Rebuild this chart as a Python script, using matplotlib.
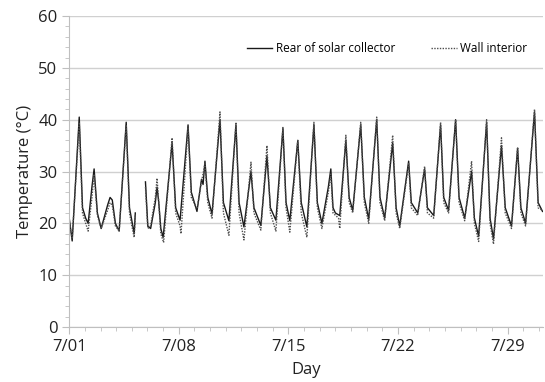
import numpy as np
import matplotlib
matplotlib.use("Agg")
import matplotlib.pyplot as plt
from matplotlib.ticker import MultipleLocator

# ---- daily readings (day of July from 7/01 00:00, temperature degC) ----
# NaN marks the logger gap on 7/05
solar_t = [0.00, 0.19, 0.64, 0.85, 1.05, 1.21, 1.45, 1.59, 1.80, 2.04, 2.45, 2.61, 2.75, 2.95,
           3.19, 3.64, 3.85, 4.00, 4.15, 4.22, 4.50, 4.87, 5.02, 5.20, 5.50, 5.61, 5.72, 5.85,
           6.00, 6.57, 6.80, 7.08, 7.59, 7.80, 8.16, 8.45, 8.55, 8.67, 8.85, 9.12, 9.63, 9.85,
           10.20, 10.65, 10.85, 11.16, 11.61, 11.80, 12.24, 12.63, 12.85, 13.20, 13.65, 13.85,
           14.09, 14.60, 14.82, 15.18, 15.63, 15.85, 16.14, 16.55, 16.71, 16.85, 17.00, 17.28,
           17.67, 17.88, 18.11, 18.62, 18.85, 19.13, 19.64, 19.85, 20.15, 20.66, 20.88, 21.11,
           21.68, 21.85, 22.26, 22.70, 22.88, 23.28, 23.72, 23.92, 24.23, 24.68, 24.90, 25.26,
           25.70, 25.88, 26.15, 26.66, 26.88, 27.10, 27.61, 27.85, 28.25, 28.64, 28.85, 29.15,
           29.72, 29.95, 30.23]
solar_v = [21.0, 16.6, 40.5, 23.0, 21.0, 20.0, 27.0, 30.5, 22.0, 19.0, 23.5, 25.0, 24.5, 20.0,
           18.5, 39.5, 23.0, 20.5, 18.0, 22.0, np.nan, 28.0, 19.5, 19.0, 24.0, 27.0, 24.0, 19.0,
           17.3, 35.5, 23.0, 20.6, 39.0, 26.0, 22.3, 28.5, 27.5, 32.0, 25.0, 21.8, 40.0, 24.0,
           20.5, 39.0, 24.0, 19.3, 30.0, 23.0, 19.6, 33.0, 23.0, 20.6, 38.3, 24.0,
           20.5, 36.0, 24.0, 19.3, 39.0, 24.0, 20.0, 27.0, 30.5, 23.0, 22.0, 21.5,
           36.0, 25.0, 22.5, 39.0, 25.0, 20.8, 40.0, 25.0, 21.0, 35.5, 23.0, 19.5,
           32.0, 24.0, 22.0, 30.5, 23.0, 21.5, 39.0, 25.0, 22.5, 40.0, 25.0, 21.0,
           30.0, 21.0, 17.5, 39.5, 21.0, 17.0, 35.0, 23.0, 19.5, 34.5, 23.0, 20.0,
           41.5, 24.0, 22.3]

wall_t = [0.00, 0.19, 0.64, 0.85, 1.05, 1.21, 1.45, 1.59, 1.80, 2.04, 2.45, 2.61, 2.75, 2.95,
          3.19, 3.64, 3.85, 4.00, 4.15, 4.22, 4.50, 4.87, 5.02, 5.20, 5.50, 5.61, 5.72, 5.85,
          6.03, 6.57, 6.80, 7.08, 7.14, 7.59, 7.80, 8.16, 8.45, 8.67, 8.85, 9.12, 9.63, 9.85,
          10.20, 10.65, 10.85, 11.16, 11.61, 11.80, 12.24, 12.63, 12.85, 13.20, 13.65, 13.85,
          14.09, 14.60, 14.82, 15.18, 15.63, 15.85, 16.14, 16.55, 16.71, 16.85, 17.20, 17.28,
          17.67, 17.88, 18.11, 18.62, 18.85, 19.13, 19.64, 19.85, 20.15, 20.66, 20.88, 21.11,
          21.68, 21.85, 22.26, 22.70, 22.88, 23.28, 23.72, 23.92, 24.23, 24.68, 24.90, 25.26,
          25.70, 25.88, 26.15, 26.66, 26.88, 27.10, 27.61, 27.85, 28.25, 28.64, 28.85, 29.15,
          29.72, 29.95, 30.23]
wall_v = [20.5, 17.0, 39.5, 22.0, 20.0, 18.5, 25.0, 29.5, 21.5, 19.0, 22.5, 24.0, 23.5, 19.5,
          18.5, 39.0, 22.0, 19.5, 17.3, 21.5, np.nan, 27.0, 19.0, 19.5, 25.0, 28.7, 24.0, 18.0,
          16.3, 36.5, 22.0, 19.5, 18.0, 38.5, 25.0, 22.8, 28.0, 31.5, 24.0, 21.0, 41.5, 22.0,
          17.7, 39.5, 22.0, 16.8, 31.8, 22.0, 18.7, 35.0, 22.0, 18.5, 38.5, 23.0,
          18.3, 36.0, 22.0, 17.3, 39.5, 23.0, 19.0, 26.0, 29.5, 22.0, 21.0, 19.0,
          37.0, 24.0, 22.0, 39.5, 24.0, 20.0, 40.5, 24.0, 20.5, 37.0, 22.0, 19.0,
          31.5, 23.0, 21.5, 31.0, 22.0, 21.0, 39.5, 24.0, 22.0, 40.0, 24.0, 20.5,
          32.0, 20.0, 16.5, 40.0, 20.0, 16.0, 36.5, 22.0, 19.0, 34.7, 22.0, 19.5,
          42.0, 23.0, 22.5]

day_ticks = [0, 7, 14, 21, 28]
day_labels = ["7/01", "7/08", "7/15", "7/22", "7/29"]

plt.rcParams["font.family"] = ["Open Sans", "DejaVu Sans"]

fig = plt.figure(figsize=(5.45, 3.82), dpi=100)
ax = fig.add_axes([0.127, 0.144, 0.869, 0.814])

ax.plot(solar_t, solar_v, color="#1a1a1a", lw=1.0, ls="-", label="Rear of solar collector")
ax.plot(wall_t, wall_v, color="#4d4d4d", lw=1.0, ls=(0, (1, 1)), label="Wall interior")

ax.set_xlim(0, 30.25)
ax.set_ylim(0, 60)
ax.set_xticks(day_ticks)
ax.set_xticklabels(day_labels)
ax.xaxis.set_minor_locator(MultipleLocator(1))
ax.yaxis.set_major_locator(MultipleLocator(10))
ax.yaxis.set_minor_locator(MultipleLocator(2))

ax.grid(axis="y", which="major", color="#d0d0d0", lw=1)
ax.set_axisbelow(True)
for s in ["top", "right"]:
    ax.spines[s].set_visible(False)
for s in ["left", "bottom"]:
    ax.spines[s].set_color("#bfbfbf")
ax.tick_params(which="both", color="#bfbfbf", labelsize=12, labelcolor="#222222")
ax.tick_params(which="major", length=5)
ax.tick_params(which="minor", length=3)

ax.set_xlabel("Day", fontsize=12, color="#222222", labelpad=5)
ax.set_ylabel("Temperature (°C)", fontsize=12, color="#222222", labelpad=4)

ax.legend(loc="upper right", bbox_to_anchor=(0.99, 0.95), ncol=2, frameon=False,
          fontsize=8.5, handlelength=2.2, columnspacing=3, handletextpad=0.3)

fig.savefig("out.png", dpi=100)
